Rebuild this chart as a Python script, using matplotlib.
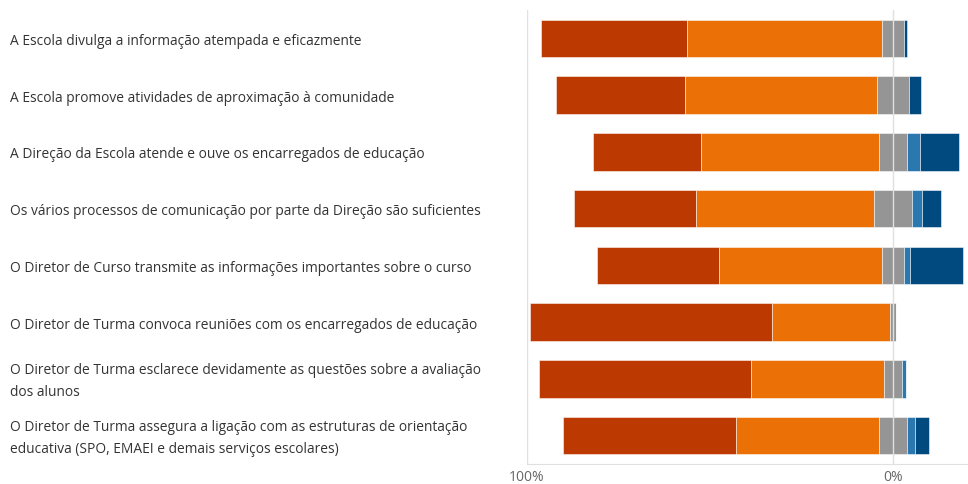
import matplotlib
matplotlib.use("Agg")
import matplotlib.pyplot as plt
import numpy as np

questions = [
    "A Escola divulga a informação atempada e eficazmente",
    "A Escola promove atividades de aproximação à comunidade",
    "A Direção da Escola atende e ouve os encarregados de educação",
    "Os vários processos de comunicação por parte da Direção são suficientes",
    "O Diretor de Curso transmite as informações importantes sobre o curso",
    "O Diretor de Turma convoca reuniões com os encarregados de educação",
    "O Diretor de Turma esclarece devidamente as questões sobre a avaliação\ndos alunos",
    "O Diretor de Turma assegura a ligação com as estruturas de orientação\neducativa (SPO, EMAEI e demais serviços escolares)",
]

# percentagens por categoria (da mais positiva à mais negativa)
muito_pos = np.array([39.8, 35.4, 29.5, 33.3, 33.4, 66.0, 57.8, 47.4])
pos = np.array([53.4, 52.5, 48.7, 48.5, 44.6, 32.2, 36.3, 39.0])
neutro = np.array([5.9, 8.6, 7.6, 10.5, 6.0, 1.8, 5.1, 7.8])
neg = np.array([0.0, 0.0, 3.5, 2.65, 1.55, 0.0, 0.9, 2.0])
muito_neg = np.array([0.8, 3.4, 10.8, 5.3, 14.5, 0.0, 0.0, 4.0])

cores = ["#BC3A01", "#EB7107", "#959595", "#2B78B0", "#004A80"]

plt.rcParams["font.family"] = ["Open Sans", "DejaVu Sans"]

fig = plt.figure(figsize=(9.68, 4.84), dpi=100)
ax = fig.add_axes([527 / 968, 20 / 484, 440 / 968, 454 / 484])

y = np.arange(len(questions))
h = 0.66
edge = dict(edgecolor=(1, 1, 1, 0.6), linewidth=0.6)

# lado esquerdo (concordância) desenhado em valores negativos
left_orange = -neutro / 2 - pos
left_red = left_orange - muito_pos
ax.barh(y, muito_pos, left=left_red, height=h, color=cores[0], **edge)
ax.barh(y, pos, left=left_orange, height=h, color=cores[1], **edge)
ax.barh(y, neutro, left=-neutro / 2, height=h, color=cores[2], **edge)
ax.barh(y, neg, left=neutro / 2, height=h, color=cores[3], **edge)
ax.barh(y, muito_neg, left=neutro / 2 + neg, height=h, color=cores[4], **edge)

ax.set_xlim(-100, 20.2)
ax.set_ylim(len(questions) - 0.5, -0.5)
ax.set_xticks([-100, 0])
ax.set_xticklabels(["100%", "0%"])
ax.axvline(-100, color="#E0E0E0", lw=1, zorder=0)
ax.axvline(0, color="#E0E0E0", lw=1, zorder=3)
ax.tick_params(axis="x", length=0, labelsize=10, colors="#666666", pad=4)
ax.set_yticks([])
for s in ["top", "right", "left"]:
    ax.spines[s].set_visible(False)
ax.spines["bottom"].set_color("#E0E0E0")

# rótulos alinhados à esquerda da figura, centrados em cada barra
for yi, q in zip(y, questions):
    yfig = (ax.transData.transform((0, yi))[1] - 3) / fig.bbox.height
    fig.text(10 / 968, yfig, q, ha="left", va="center", fontsize=9.9,
             color="#333333", linespacing=1.62)

fig.savefig("out.png", dpi=100)
